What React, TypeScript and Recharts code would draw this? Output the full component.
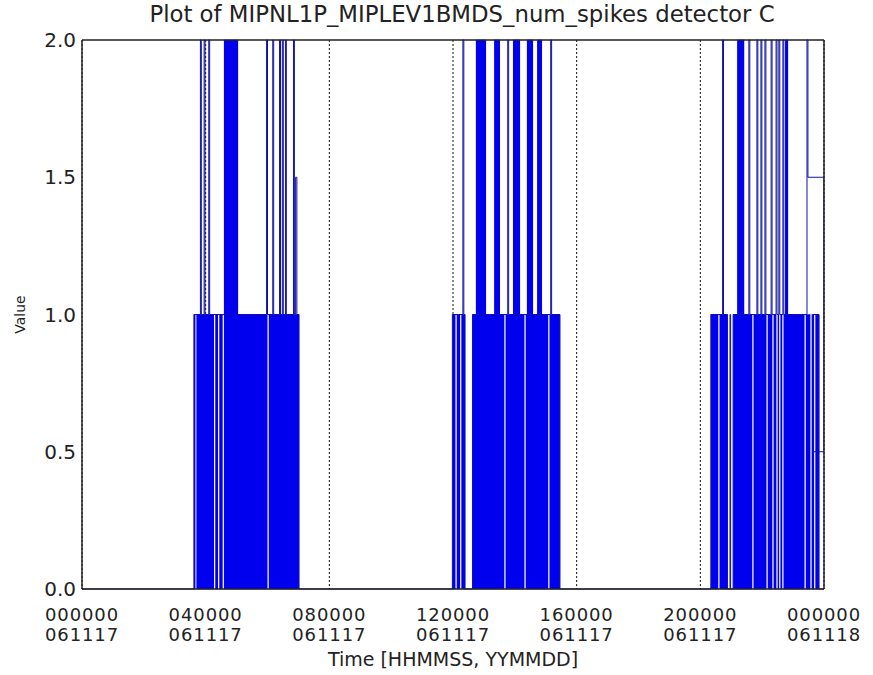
import { ComposedChart, Line, Area, XAxis, YAxis, CartesianGrid, ReferenceLine } from 'recharts';

const FONT = '"DejaVu Sans", Verdana, sans-serif';

// x axis: hours since 000000 061117
const tickHours = [0, 4, 8, 12, 16, 20, 24];
const tickTime = ['000000', '040000', '080000', '120000', '160000', '200000', '000000'];
const tickDate = ['061117', '061117', '061117', '061117', '061117', '061117', '061118'];
const valueTicks = [0, 0.5, 1, 1.5, 2];

// num_spikes trace, in the order it is drawn
const traceHours = [
    0, 3.62, 3.62,
    3.83, 3.83, 3.86, 3.86,
    3.95, 3.95, 3.98, 3.98,
    4.1, 4.1, 4.13, 4.13,
    5.97, 5.97, 6.0, 6.0,
    6.17, 6.17, 6.2, 6.2,
    6.39, 6.39, 6.42, 6.42,
    6.48, 6.48, 6.51, 6.51,
    6.58, 6.58, 6.61, 6.61,
    6.84, 6.84, 6.87, 6.87,
    6.91, 6.91, 6.95, 6.95,
    7.02, 7.02,
    11.98, 11.98,
    12.32, 12.32, 12.35, 12.35,
    12.39, 12.39, 12.63, 12.63,
    13.77, 13.77, 13.8, 13.8,
    15.16, 15.16, 15.19, 15.19,
    15.46, 15.46,
    20.34, 20.34,
    20.72, 20.72, 20.75, 20.75,
    20.88, 20.88, 20.96, 20.96, 20.98, 20.98, 21.06, 21.06,
    21.57, 21.57, 21.6, 21.6,
    21.83, 21.83, 21.86, 21.86,
    21.96, 21.96, 21.99, 21.99,
    22.09, 22.09, 22.12, 22.12,
    22.29, 22.29, 22.32, 22.32,
    22.45, 22.45, 22.48, 22.48,
    22.54, 22.54, 22.57, 22.57,
    22.67, 22.67, 22.7, 22.7,
    23.45, 23.45, 23.48, 23.48, 24, 24, 23.64, 23.64,
    23.84, 23.84, 24,
];
const traceValues = [
    0, 0, 1,
    1, 2, 2, 1,
    1, 2, 2, 1,
    1, 2, 2, 1,
    1, 2, 2, 1,
    1, 2, 2, 1,
    1, 2, 2, 1,
    1, 2, 2, 1,
    1, 2, 2, 1,
    1, 2, 2, 1,
    1, 1.5, 1.5, 1,
    1, 0,
    0, 1,
    1, 2, 2, 1,
    1, 0, 0, 1,
    1, 2, 2, 1,
    1, 2, 2, 1,
    1, 0,
    0, 1,
    1, 2, 2, 1,
    1, 0, 0, 1, 1, 0, 0, 1,
    1, 2, 2, 1,
    1, 2, 2, 1,
    1, 2, 2, 1,
    1, 2, 2, 1,
    1, 2, 2, 1,
    1, 2, 2, 1,
    1, 2, 2, 1,
    1, 2, 2, 1,
    1, 2, 2, 1.5, 1.5, 0.5, 0.5, 1,
    1, 0, 0,
];

// stretches where the count flips 0 <-> 1 too fast to separate
const lowBandStart = [
    3.62, 3.7, 4.31, 4.44, 4.59, 6.04,
    11.98, 12.12, 12.27, 12.63, 13.7, 14.35, 15.12,
    20.34, 20.62, 21.06, 21.72, 22.18, 22.37, 22.5, 22.59, 22.69, 23.41, 23.6, 23.72,
];
const lowBandEnd = [
    3.67, 4.27, 4.4, 4.55, 6.0, 7.02,
    12.08, 12.23, 12.39, 13.66, 14.31, 15.08, 15.46,
    20.58, 20.88, 21.68, 22.14, 22.33, 22.46, 22.55, 22.65, 23.37, 23.56, 23.68, 23.84,
];
// stretches where it flips 1 <-> 2
const highBandStart = [4.59, 12.74, 13.33, 13.94, 14.39, 14.72, 21.19, 22.74];
const highBandEnd = [5.05, 13.07, 13.52, 14.17, 14.59, 14.88, 21.42, 22.84];

const traceData = traceHours.map((t, i) => ({ t, v: traceValues[i] }));

const bandData = [
    ...lowBandStart.flatMap((s, i) => [
        { t: s, band: [0, 1] },
        { t: lowBandEnd[i], band: [0, 1] },
        { t: lowBandEnd[i], band: null },
    ]),
    ...highBandStart.flatMap((s, i) => [
        { t: s, band: [1, 2] },
        { t: highBandEnd[i], band: [1, 2] },
        { t: highBandEnd[i], band: null },
    ]),
];

const TimeTick = ({ x, y, payload }: any) => {
    const i = tickHours.indexOf(payload.value);
    return (
        <text x={x} y={y} textAnchor="middle" fontSize={18} letterSpacing={0.9} fill="#222" fontFamily={FONT}>
            <tspan x={x} dy={30}>{tickTime[i]}</tspan>
            <tspan x={x} dy={20}>{tickDate[i]}</tspan>
        </text>
    );
};

const XCaption = ({ viewBox }: any) => (
    <text x={viewBox.x + viewBox.width / 2} y={viewBox.y + 77} textAnchor="middle" fontSize={19} fill="#222" fontFamily={FONT}>
        Time [HHMMSS, YYMMDD]
    </text>
);

const YCaption = ({ viewBox }: any) => {
    const cx = 20;
    const cy = viewBox.y + viewBox.height / 2;
    return (
        <text x={cx} y={cy} transform={`rotate(-90 ${cx} ${cy})`} textAnchor="middle" dominantBaseline="central" fontSize={14} fill="#222" fontFamily={FONT}>
            Value
        </text>
    );
};

export default function App() {
    return (
        <div style={{ position: 'absolute', left: 0, top: 0, width: 873, height: 675, background: '#fff' }}>
            <div
                style={{
                    position: 'absolute', left: 62, top: 1, width: 800, textAlign: 'center',
                    fontFamily: FONT, fontSize: 22.8, color: '#222', whiteSpace: 'nowrap',
                }}
            >
                Plot of MIPNL1P_MIPLEV1BMDS_num_spikes detector C
            </div>
            <ComposedChart width={873} height={675} margin={{ top: 40, right: 49, bottom: 26, left: 42 }}>
                <CartesianGrid horizontal={false} stroke="#111" strokeDasharray="2 2" />
                <XAxis
                    dataKey="t"
                    type="number"
                    domain={[0, 24]}
                    ticks={tickHours}
                    height={60}
                    tickLine={false}
                    tickSize={0}
                    tick={<TimeTick />}
                    axisLine={{ stroke: '#222', strokeWidth: 1.5 }}
                    label={<XCaption />}
                    allowDataOverflow
                />
                <YAxis
                    type="number"
                    domain={[0, 2]}
                    ticks={valueTicks}
                    width={40}
                    tickLine={false}
                    tickSize={0}
                    tickMargin={6}
                    tickFormatter={(v: number) => v.toFixed(1)}
                    tick={{ fill: '#222', fontSize: 20, fontFamily: FONT }}
                    axisLine={{ stroke: '#222', strokeWidth: 1.5 }}
                    label={<YCaption />}
                />
                <Area
                    data={bandData}
                    dataKey="band"
                    type="linear"
                    fill="#0000ee"
                    fillOpacity={1}
                    stroke="#0000ee"
                    strokeWidth={0.5}
                    connectNulls={false}
                    isAnimationActive={false}
                    dot={false}
                    activeDot={false}
                />
                <Line
                    data={traceData}
                    dataKey="v"
                    type="linear"
                    stroke="#1010a8"
                    strokeWidth={1}
                    dot={false}
                    activeDot={false}
                    isAnimationActive={false}
                />
                <ReferenceLine y={2} stroke="#222" strokeWidth={1.5} />
                <ReferenceLine x={24} stroke="#222" strokeWidth={1.5} />
            </ComposedChart>
        </div>
    );
}
